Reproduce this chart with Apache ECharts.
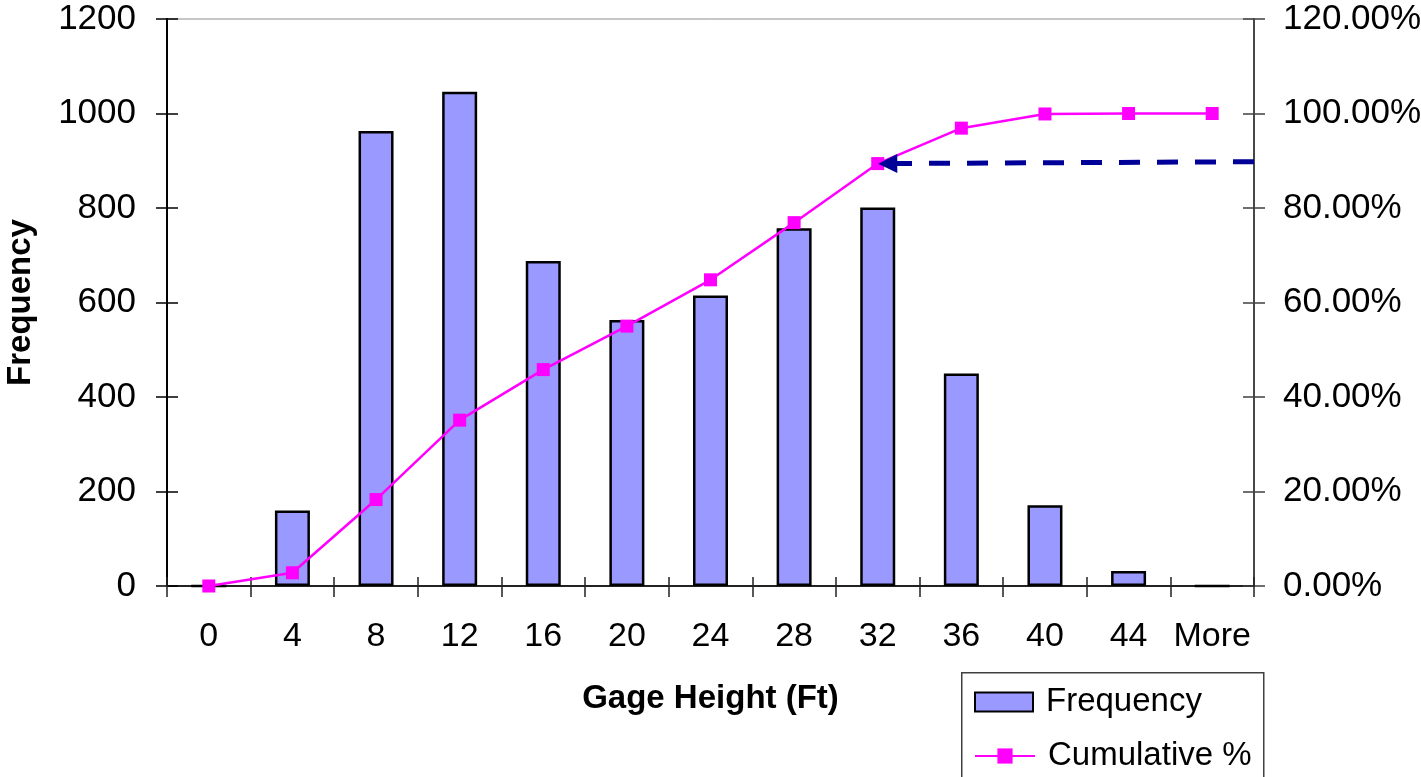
<!DOCTYPE html>
<html>
<head>
<meta charset="utf-8">
<title>Gage Height Histogram</title>
<script src="https://cdn.jsdelivr.net/npm/echarts@6/dist/echarts.min.js"></script>
<style>
  html, body { margin: 0; padding: 0; background: #fff; }
  #chart { width: 1421px; height: 777px; }
</style>
</head>
<body>
<div id="chart"></div>
<script>
// Histogram bins (gage height, ft)
const categories = ['0', '4', '8', '12', '16', '20', '24', '28', '32', '36', '40', '44', 'More'];
// Counts per bin
const frequency = [0, 160, 963, 1046, 688, 563, 615, 757, 801, 450, 171, 32, 0];
// Running share of all readings, percent
const cumulative = [0, 2.8, 18.3, 35.1, 45.8, 55.0, 64.8, 76.9, 89.4, 96.9, 99.9, 100, 100];
// Left and right axis ranges [min, max, step]
const freqTicks = [0, 1200, 200];
const pctTicks = [0, 120, 20];
// Dashed pointer from the right axis to the 32 ft cumulative point
// (x in bin units along a hidden 0..13 scale, y in percent)
const pointerFrom = [13, 89.8];
const pointerTo = [8.62, 89.4];

const FONT = '"Liberation Sans", Arial, Helvetica, sans-serif';
const TICK_FS = 34;
const YTICK_FS = 35;

const chart = echarts.init(document.getElementById('chart'), null, { renderer: 'canvas' });

const baseCat = {
  type: 'category',
  data: categories,
  position: 'bottom',
  boundaryGap: true
};

const legendText = { fontFamily: FONT, fontSize: 33, color: '#000', lineHeight: 40, padding: [0, 0, 0, 8] };

const option = {
  backgroundColor: '#fff',
  animation: false,
  grid: {
    left: 167, right: 167, top: 19, bottom: 191,
    outerBoundsMode: 'none',
    containLabel: false,
    show: true, borderColor: '#8c8c8c', borderWidth: 1, backgroundColor: '#fff'
  },
  // frame around the legend entries
  graphic: [{
    type: 'rect',
    left: 961, top: 672,
    shape: { width: 302, height: 130 },
    style: { fill: '#fff', stroke: '#404040', lineWidth: 1.5 },
    z: 0, silent: true
  }],
  legend: [
    {
      left: 961, top: 682, padding: [0, 0, 0, 13],
      itemWidth: 58, itemHeight: 19,
      textStyle: legendText,
      data: [{ name: 'Frequency', icon: 'rect' }],
      z: 5
    },
    {
      left: 961, top: 736, padding: [0, 0, 0, 13],
      itemWidth: 60, itemHeight: 19,
      textStyle: legendText,
      data: [{ name: 'Cumulative %' }],
      z: 5
    }
  ],
  xAxis: [
    Object.assign({}, baseCat, {
      name: 'Gage Height (Ft)',
      nameLocation: 'middle',
      nameGap: 96,
      nameTextStyle: { fontFamily: FONT, fontSize: 33, fontWeight: 'bold', color: '#000' },
      axisLine: { show: true, lineStyle: { color: '#222', width: 2 } },
      axisTick: { show: true, inside: false, length: 11, alignWithLabel: false, lineStyle: { color: '#222', width: 1.5 } },
      axisLabel: { fontFamily: FONT, fontSize: TICK_FS, color: '#000', margin: 34, interval: 0 },
      splitLine: { show: false }
    }),
    // inner half of the crossing ticks
    Object.assign({}, baseCat, {
      axisLine: { show: true, lineStyle: { color: '#222', width: 2 } },
      axisTick: { show: true, inside: true, length: 9, alignWithLabel: false, lineStyle: { color: '#222', width: 1.5 } },
      axisLabel: { show: false },
      splitLine: { show: false }
    }),
    // plain 0..13 scale across the plot, used by the pointer
    { type: 'value', min: 0, max: 13, show: false, position: 'bottom' }
  ],
  yAxis: [
    {
      type: 'value', position: 'left',
      min: freqTicks[0], max: freqTicks[1], interval: freqTicks[2],
      name: 'Frequency',
      nameLocation: 'middle',
      nameGap: 130,
      nameRotate: 90,
      nameTextStyle: { fontFamily: FONT, fontSize: 33, fontWeight: 'bold', color: '#000' },
      axisLine: { show: true, lineStyle: { color: '#000', width: 2 } },
      axisTick: { show: true, inside: false, length: 11, lineStyle: { color: '#000', width: 1.5 } },
      axisLabel: { fontFamily: FONT, fontSize: YTICK_FS, color: '#000', margin: 31, formatter: v => String(v) },
      splitLine: { show: false }
    },
    {
      type: 'value', position: 'right',
      min: pctTicks[0], max: pctTicks[1], interval: pctTicks[2],
      axisLine: { show: true, lineStyle: { color: '#404040', width: 1.5 } },
      axisTick: { show: true, inside: false, length: 11, lineStyle: { color: '#404040', width: 1.5 } },
      axisLabel: { fontFamily: FONT, fontSize: YTICK_FS, color: '#000', margin: 29, formatter: v => v.toFixed(2) + '%' },
      splitLine: { show: false }
    },
    {
      type: 'value', position: 'left',
      min: freqTicks[0], max: freqTicks[1], interval: freqTicks[2],
      axisLine: { show: true, lineStyle: { color: '#000', width: 2 } },
      axisTick: { show: true, inside: true, length: 11, lineStyle: { color: '#000', width: 1.5 } },
      axisLabel: { show: false },
      splitLine: { show: false }
    },
    {
      type: 'value', position: 'right',
      min: pctTicks[0], max: pctTicks[1], interval: pctTicks[2],
      axisLine: { show: true, lineStyle: { color: '#404040', width: 1.5 } },
      axisTick: { show: true, inside: true, length: 11, lineStyle: { color: '#404040', width: 1.5 } },
      axisLabel: { show: false },
      splitLine: { show: false }
    }
  ],
  series: [
    {
      name: 'Frequency',
      type: 'bar',
      xAxisIndex: 0, yAxisIndex: 0,
      data: frequency,
      barWidth: 35,
      itemStyle: { color: '#9999FF', borderColor: '#000', borderWidth: 2.5 },
      emphasis: { disabled: true },
      z: 2
    },
    {
      name: 'Cumulative %',
      type: 'line',
      xAxisIndex: 0, yAxisIndex: 1,
      data: cumulative,
      symbol: 'rect',
      symbolSize: 13,
      showAllSymbol: true,
      lineStyle: { color: '#FF00FF', width: 2.5 },
      itemStyle: { color: '#FF00FF' },
      emphasis: { disabled: true },
      z: 3
    },
    {
      name: 'pointer',
      type: 'line',
      xAxisIndex: 2, yAxisIndex: 1,
      data: [],
      silent: true,
      z: 4,
      markLine: {
        silent: true,
        animation: false,
        symbol: ['none', 'triangle'],
        symbolSize: 19,
        label: { show: false },
        emphasis: { disabled: true },
        lineStyle: { color: '#000099', width: 5, type: [21, 17], cap: 'butt', opacity: 1 },
        itemStyle: { color: '#000099' },
        data: [[{ coord: pointerFrom }, { coord: pointerTo }]]
      }
    }
  ]
};

chart.setOption(option);
</script>
</body>
</html>
